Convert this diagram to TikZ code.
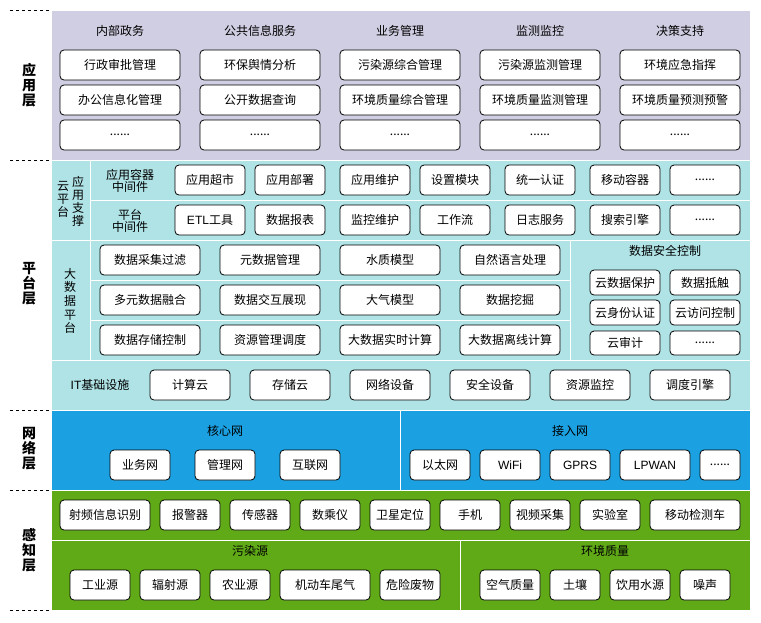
\documentclass[tikz,border=0pt]{standalone}
\usepackage{fontspec}
\setmainfont{Noto Sans CJK SC}
\newfontfamily\lat{Liberation Sans}
\definecolor{lav}{HTML}{D0CEE2}
\definecolor{cyanbg}{HTML}{B0E3E6}
\definecolor{bluebg}{HTML}{1BA1E2}
\definecolor{greenbg}{HTML}{60A917}
\newcommand\bx[6]{\node[bx,minimum width={(#4)-(#2)},minimum height={(#5)-(#3)}] (#1) at ({((#2)+(#4))/2},{((#3)+(#5))/2}) {#6};}
\tikzset{
  txt/.style={inner sep=0pt, outer sep=0pt, font=\fontsize{12}{13}\selectfont, align=center},
  bx/.style={txt, draw=black, fill=white, rounded corners=4pt, line width=0.8pt},
  region/.style={draw=white, line width=1pt},
  layerlbl/.style={inner sep=0pt, align=center, font=\fontsize{14}{15}\selectfont\bfseries},
  vlbl/.style={inner sep=0pt, align=center, font=\fontsize{12}{13}\selectfont},
  sep/.style={dashed, dash pattern=on 3pt off 3pt, line width=0.8pt, black}
}
\begin{document}
\begin{tikzpicture}[x=1pt,y=-1pt]
\useasboundingbox (0,0) rectangle (761,622);
% dashed separators
\foreach \yy/\nm in {10/d1,160/d2,410/d3,490/d4,610/d5}{
  \coordinate (\nm a) at (10,\yy); \coordinate (\nm b) at (50,\yy);
  \draw[sep] (\nm a) -- (\nm b);
}
% regions
\path[region, fill=lav] (51,10) rectangle (750,160);
\path[region, fill=cyanbg] (51,160) rectangle (90,240);
\path[region, fill=cyanbg] (90,160) rectangle (750,200);
\path[region, fill=cyanbg] (90,200) rectangle (750,240);
\path[region, fill=cyanbg] (51,240) rectangle (90,360);
\path[region, fill=cyanbg] (90,240) rectangle (570,280);
\path[region, fill=cyanbg] (90,280) rectangle (570,320);
\path[region, fill=cyanbg] (90,320) rectangle (570,360);
\path[region, fill=cyanbg] (570,240) rectangle (750,360);
\path[region, fill=cyanbg] (51,360) rectangle (750,410);
\path[region, fill=bluebg] (51,410) rectangle (400,490);
\path[region, fill=bluebg] (400,410) rectangle (750,490);
\path[region, fill=greenbg] (51,490) rectangle (750,540);
\path[region, fill=greenbg] (51,540) rectangle (460,610);
\path[region, fill=greenbg] (460,540) rectangle (750,610);
% layer labels
\node[layerlbl] (lyA) at (29,85) {应\\用\\层};
\node[layerlbl] (lyP) at (29,284) {平\\台\\层};
\node[layerlbl] (lyN) at (29,449) {网\\络\\层};
\node[layerlbl] (lyS) at (29,550) {感\\知\\层};
% application layer
\node[txt] (h1) at (120,31) {内部政务};
\node[txt] (h2) at (260,31) {公共信息服务};
\node[txt] (h3) at (400,31) {业务管理};
\node[txt] (h4) at (540,31) {监测监控};
\node[txt] (h5) at (680,31) {决策支持};
\bx{a11}{60}{50}{180}{80}{行政审批管理}
\bx{a12}{60}{85}{180}{115}{办公信息化管理}
\bx{a13}{60}{120}{180}{150}{......}
\bx{a21}{200}{50}{320}{80}{环保舆情分析}
\bx{a22}{200}{85}{320}{115}{公开数据查询}
\bx{a23}{200}{120}{320}{150}{......}
\bx{a31}{340}{50}{460}{80}{污染源综合管理}
\bx{a32}{340}{85}{460}{115}{环境质量综合管理}
\bx{a33}{340}{120}{460}{150}{......}
\bx{a41}{480}{50}{600}{80}{污染源监测管理}
\bx{a42}{480}{85}{600}{115}{环境质量监测管理}
\bx{a43}{480}{120}{600}{150}{......}
\bx{a51}{620}{50}{740}{80}{环境应急指挥}
\bx{a52}{620}{85}{740}{115}{环境质量预测预警}
\bx{a53}{620}{120}{740}{150}{......}
% cloud platform
\node[vlbl] (cp) at (63,199) {云\\平\\台};
\node[vlbl] (cs) at (78,201) {应\\用\\支\\撑};
\node[txt, font=\fontsize{12}{12.5}\selectfont] (r1l) at (130,181) {应用容器\\中间件};
\node[txt, font=\fontsize{12}{12.5}\selectfont] (r2l) at (130,221) {平台\\中间件};
\bx{c11}{175}{165}{245}{195}{应用超市}
\bx{c12}{255}{165}{325}{195}{应用部署}
\bx{c13}{340}{165}{410}{195}{应用维护}
\bx{c14}{420}{165}{490}{195}{设置模块}
\bx{c15}{505}{165}{575}{195}{统一认证}
\bx{c16}{590}{165}{660}{195}{移动容器}
\bx{c17}{670}{165}{740}{195}{......}
\bx{c21}{175}{205}{245}{235}{{\lat ETL}工具}
\bx{c22}{255}{205}{325}{235}{数据报表}
\bx{c23}{340}{205}{410}{235}{监控维护}
\bx{c24}{420}{205}{490}{235}{工作流}
\bx{c25}{505}{205}{575}{235}{日志服务}
\bx{c26}{590}{205}{660}{235}{搜索引擎}
\bx{c27}{670}{205}{740}{235}{......}
% big data
\node[vlbl, font=\fontsize{12}{13.6}\selectfont] (bd) at (70,301) {大\\数\\据\\平\\台};
\bx{b11}{100}{245}{200}{275}{数据采集过滤}
\bx{b12}{220}{245}{320}{275}{元数据管理}
\bx{b13}{340}{245}{440}{275}{水质模型}
\bx{b14}{460}{245}{560}{275}{自然语言处理}
\bx{b21}{100}{285}{200}{315}{多元数据融合}
\bx{b22}{220}{285}{320}{315}{数据交互展现}
\bx{b23}{340}{285}{440}{315}{大气模型}
\bx{b24}{460}{285}{560}{315}{数据挖掘}
\bx{b31}{100}{325}{200}{355}{数据存储控制}
\bx{b32}{220}{325}{320}{355}{资源管理调度}
\bx{b33}{340}{325}{440}{355}{大数据实时计算}
\bx{b34}{460}{325}{560}{355}{大数据离线计算}
% security
\node[txt] (sh) at (665,251) {数据安全控制};
\bx{s11}{590}{270}{660}{295}{云数据保护}
\bx{s12}{670}{270}{740}{295}{数据抵触}
\bx{s21}{590}{300}{660}{325}{云身份认证}
\bx{s22}{670}{300}{740}{325}{云访问控制}
\bx{s31}{590}{331}{660}{355}{云审计}
\bx{s32}{670}{331}{740}{355}{......}
% IT
\node[txt] (itl) at (100,385) {{\lat IT}基础设施};
\bx{i1}{150}{370}{230}{400}{计算云}
\bx{i2}{250}{370}{330}{400}{存储云}
\bx{i3}{350}{370}{430}{400}{网络设备}
\bx{i4}{450}{370}{530}{400}{安全设备}
\bx{i5}{550}{370}{630}{400}{资源监控}
\bx{i6}{650}{370}{730}{400}{调度引擎}
% network
\node[txt] (nh1) at (225,431) {核心网};
\node[txt] (nh2) at (570,431) {接入网};
\bx{n1}{110}{450}{170}{480}{业务网}
\bx{n2}{195}{450}{255}{480}{管理网}
\bx{n3}{280}{450}{340}{480}{互联网}
\bx{n4}{410}{450}{470}{480}{以太网}
\bx{n5}{480}{450}{540}{480}{\lat WiFi}
\bx{n6}{550}{450}{610}{480}{\lat GPRS}
\bx{n7}{620}{450}{690}{480}{\lat LPWAN}
\bx{n8}{700}{450}{740}{480}{......}
% perception
\bx{p1}{60}{500}{150}{530}{射频信息识别}
\bx{p2}{160}{500}{220}{530}{报警器}
\bx{p3}{230}{500}{290}{530}{传感器}
\bx{p4}{300}{500}{360}{530}{数乘仪}
\bx{p5}{370}{500}{430}{530}{卫星定位}
\bx{p6}{440}{500}{500}{530}{手机}
\bx{p7}{510}{500}{570}{530}{视频采集}
\bx{p8}{580}{500}{640}{530}{实验室}
\bx{p9}{650}{500}{740}{530}{移动检测车}
\node[txt] (ph1) at (250,551) {污染源};
\node[txt] (ph2) at (605,551) {环境质量};
\bx{q1}{70}{570}{130}{600}{工业源}
\bx{q2}{140}{570}{200}{600}{辐射源}
\bx{q3}{210}{570}{270}{600}{农业源}
\bx{q4}{280}{570}{370}{600}{机动车尾气}
\bx{q5}{380}{570}{440}{600}{危险废物}
\bx{q6}{480}{570}{540}{600}{空气质量}
\bx{q7}{550}{570}{600}{600}{土壤}
\bx{q8}{610}{570}{670}{600}{饮用水源}
\bx{q9}{680}{570}{730}{600}{噪声}
\end{tikzpicture}
\end{document}
